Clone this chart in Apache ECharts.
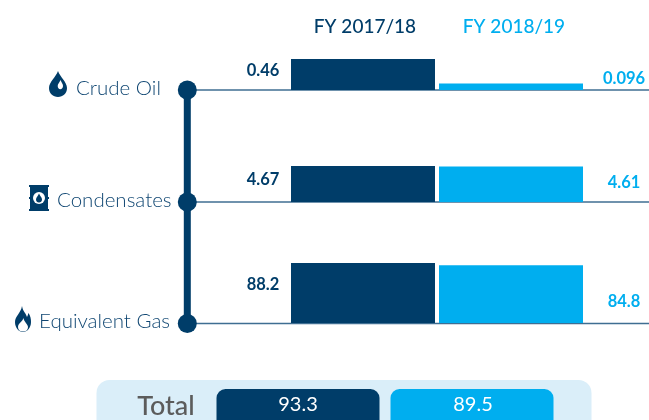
<!DOCTYPE html>
<html>
<head>
<meta charset="utf-8">
<style>
html,body{margin:0;padding:0;background:#fff;}
#main{width:649px;height:420px;}
</style>
<script src="https://cdn.jsdelivr.net/npm/echarts@6/dist/echarts.min.js"></script>
</head>
<body>
<div id="main"></div>
<script>
var years = ['FY 2017/18', 'FY 2018/19'];
var categories = ['Crude Oil', 'Condensates', 'Equivalent Gas'];
var values1718 = [0.46, 4.67, 88.2];
var values1819 = [0.096, 4.61, 84.8];
var totals = [93.3, 89.5];

var dark = '#003d69';
var light = '#00aeef';
var font = 'Lato';

/* each product has its own scale, the bars are not comparable between rows */
var rowTop = [59, 166, 263];
var rowHeight = [31, 36, 60];
var rowLine = [90, 202, 323.5];
var labelLeftY = [12, 14, 22];
var labelRightY = [-5, 16, 36];
var textX = [76, 57, 39];

var grids = [], xAxes = [], yAxes = [], series = [];
var graphics = [];

function barLabel(color, x, y) {
	return {
		show: true,
		position: [x, y],
		align: 'center',
		verticalAlign: 'middle',
		color: color,
		fontFamily: font,
		fontWeight: 'bold',
		fontSize: 16.5,
		formatter: function (p) { return String(p.value); }
	};
}

/* graphic component has no plain path type, so the icons get registered */
function icon(name, d, z, fill) {
	echarts.graphic.registerShape(name, echarts.graphic.extendPath(d, {}));
	graphics.push({type: name, z: z, style: {fill: fill}});
}

categories.forEach(function (name, i) {
	grids.push({left: 291, width: 292, top: rowTop[i], height: rowHeight[i]});
	xAxes.push({type: 'category', gridIndex: i, data: [name], show: false});
	yAxes.push({type: 'value', gridIndex: i, min: 0, max: values1718[i], show: false});
	series.push({
		name: years[0], type: 'bar', xAxisIndex: i, yAxisIndex: i,
		barWidth: 144, barGap: '2.78%', z: 5,
		itemStyle: {color: dark},
		label: barLabel(dark, -28, labelLeftY[i]),
		data: [values1718[i]]
	});
	series.push({
		name: years[1], type: 'bar', xAxisIndex: i, yAxisIndex: i,
		barWidth: 144, barGap: '2.78%', z: 5,
		itemStyle: {color: light},
		label: barLabel(light, 185, labelRightY[i]),
		data: [values1819[i]]
	});

	graphics.push({type: 'line', z: 1, shape: {x1: 187, y1: rowLine[i], x2: 649, y2: rowLine[i]}, style: {stroke: '#3f6e92', lineWidth: 1.5}});
	graphics.push({type: 'circle', z: 3, shape: {cx: 187.3, cy: rowLine[i], r: 9.5}, style: {fill: dark}});
	graphics.push({type: 'text', z: 3, style: {x: textX[i], y: rowLine[i] - 2, text: name, fill: '#0f4672', font: '300 20.5px ' + font, textVerticalAlign: 'middle'}});
});

/* vertical connector */
graphics.push({type: 'line', z: 2, shape: {x1: 187.3, y1: rowLine[0], x2: 187.3, y2: rowLine[2]}, style: {stroke: dark, lineWidth: 7}});

/* column headers */
graphics.push({type: 'text', style: {x: 365, y: 27, text: years[0], fill: dark, font: '500 19px ' + font, textAlign: 'center', textVerticalAlign: 'middle'}});
graphics.push({type: 'text', style: {x: 514, y: 27, text: years[1], fill: light, font: '500 19px ' + font, textAlign: 'center', textVerticalAlign: 'middle'}});

/* icons */
icon('iconDrop', 'M58 71 C60 77 67 82 67 88 C67 93.5 63 97 58 97 C53 97 49 93.5 49 88 C49 82 56 77 58 71 Z', 3, dark);
icon('iconDropInner', 'M60.5 80 C61.5 82.5 63 84 63 86 C63 88 61.8 89.2 60.3 89.2 C58.8 89.2 57.7 88 57.7 86 C57.7 84 59.5 82.5 60.5 80 Z', 4, '#fff');
icon('iconBarrel', 'M29 185 L49 185 L49 187 L48 187 L48 197 L49 197 L49 199 L48 199 L48 209 L49 209 L49 211 L29 211 L29 209 L30 209 L30 199 L29 199 L29 197 L30 197 L30 187 L29 187 Z', 3, dark);
graphics.push({type: 'circle', z: 4, shape: {cx: 39, cy: 198, r: 6}, style: {fill: '#fff'}});
icon('iconBarrelDrop', 'M39 193.5 C40 196 42 197.5 42 199.5 C42 201.2 40.7 202.5 39 202.5 C37.3 202.5 36 201.2 36 199.5 C36 197.5 38 196 39 193.5 Z', 5, dark);
icon('iconFlame', 'M22 306 C23 312 26 313 27 317 C28 315 28 314 28.5 313 C30.5 316 31 319 31 322 C31 328 27 332 23 332 C19 332 15 328 15 322 C15 316 21 313 22 306 Z', 3, dark);
icon('iconFlameInner', 'M23.5 318 C24 322 28 324 28 327 C28 330 26 331.5 23 331.5 C20 331.5 18 330 18 327 C18 323 22.5 322 23.5 318 Z', 4, '#fff');

/* total strip */
graphics.push({type: 'rect', shape: {x: 96.5, y: 380, width: 495, height: 60, r: 13}, style: {fill: '#daeef9'}});
graphics.push({type: 'text', style: {x: 166, y: 406, text: 'Total', fill: '#5c5c5c', font: '500 27px ' + font, textAlign: 'center', textVerticalAlign: 'middle'}});
graphics.push({type: 'rect', z: 2, shape: {x: 216.5, y: 389, width: 163, height: 50, r: 9}, style: {fill: dark}});
graphics.push({type: 'rect', z: 2, shape: {x: 390.5, y: 389, width: 163, height: 50, r: 9}, style: {fill: light}});
graphics.push({type: 'text', z: 3, style: {x: 298, y: 405, text: totals[0].toFixed(1), fill: '#fff', font: '20px ' + font, textAlign: 'center', textVerticalAlign: 'middle'}});
graphics.push({type: 'text', z: 3, style: {x: 473, y: 405, text: totals[1].toFixed(1), fill: '#fff', font: '20px ' + font, textAlign: 'center', textVerticalAlign: 'middle'}});

var myChart = echarts.init(document.getElementById('main'));
myChart.setOption({
	animation: false,
	backgroundColor: '#fff',
	grid: grids,
	xAxis: xAxes,
	yAxis: yAxes,
	series: series,
	graphic: {elements: graphics}
});
</script>
</body>
</html>
